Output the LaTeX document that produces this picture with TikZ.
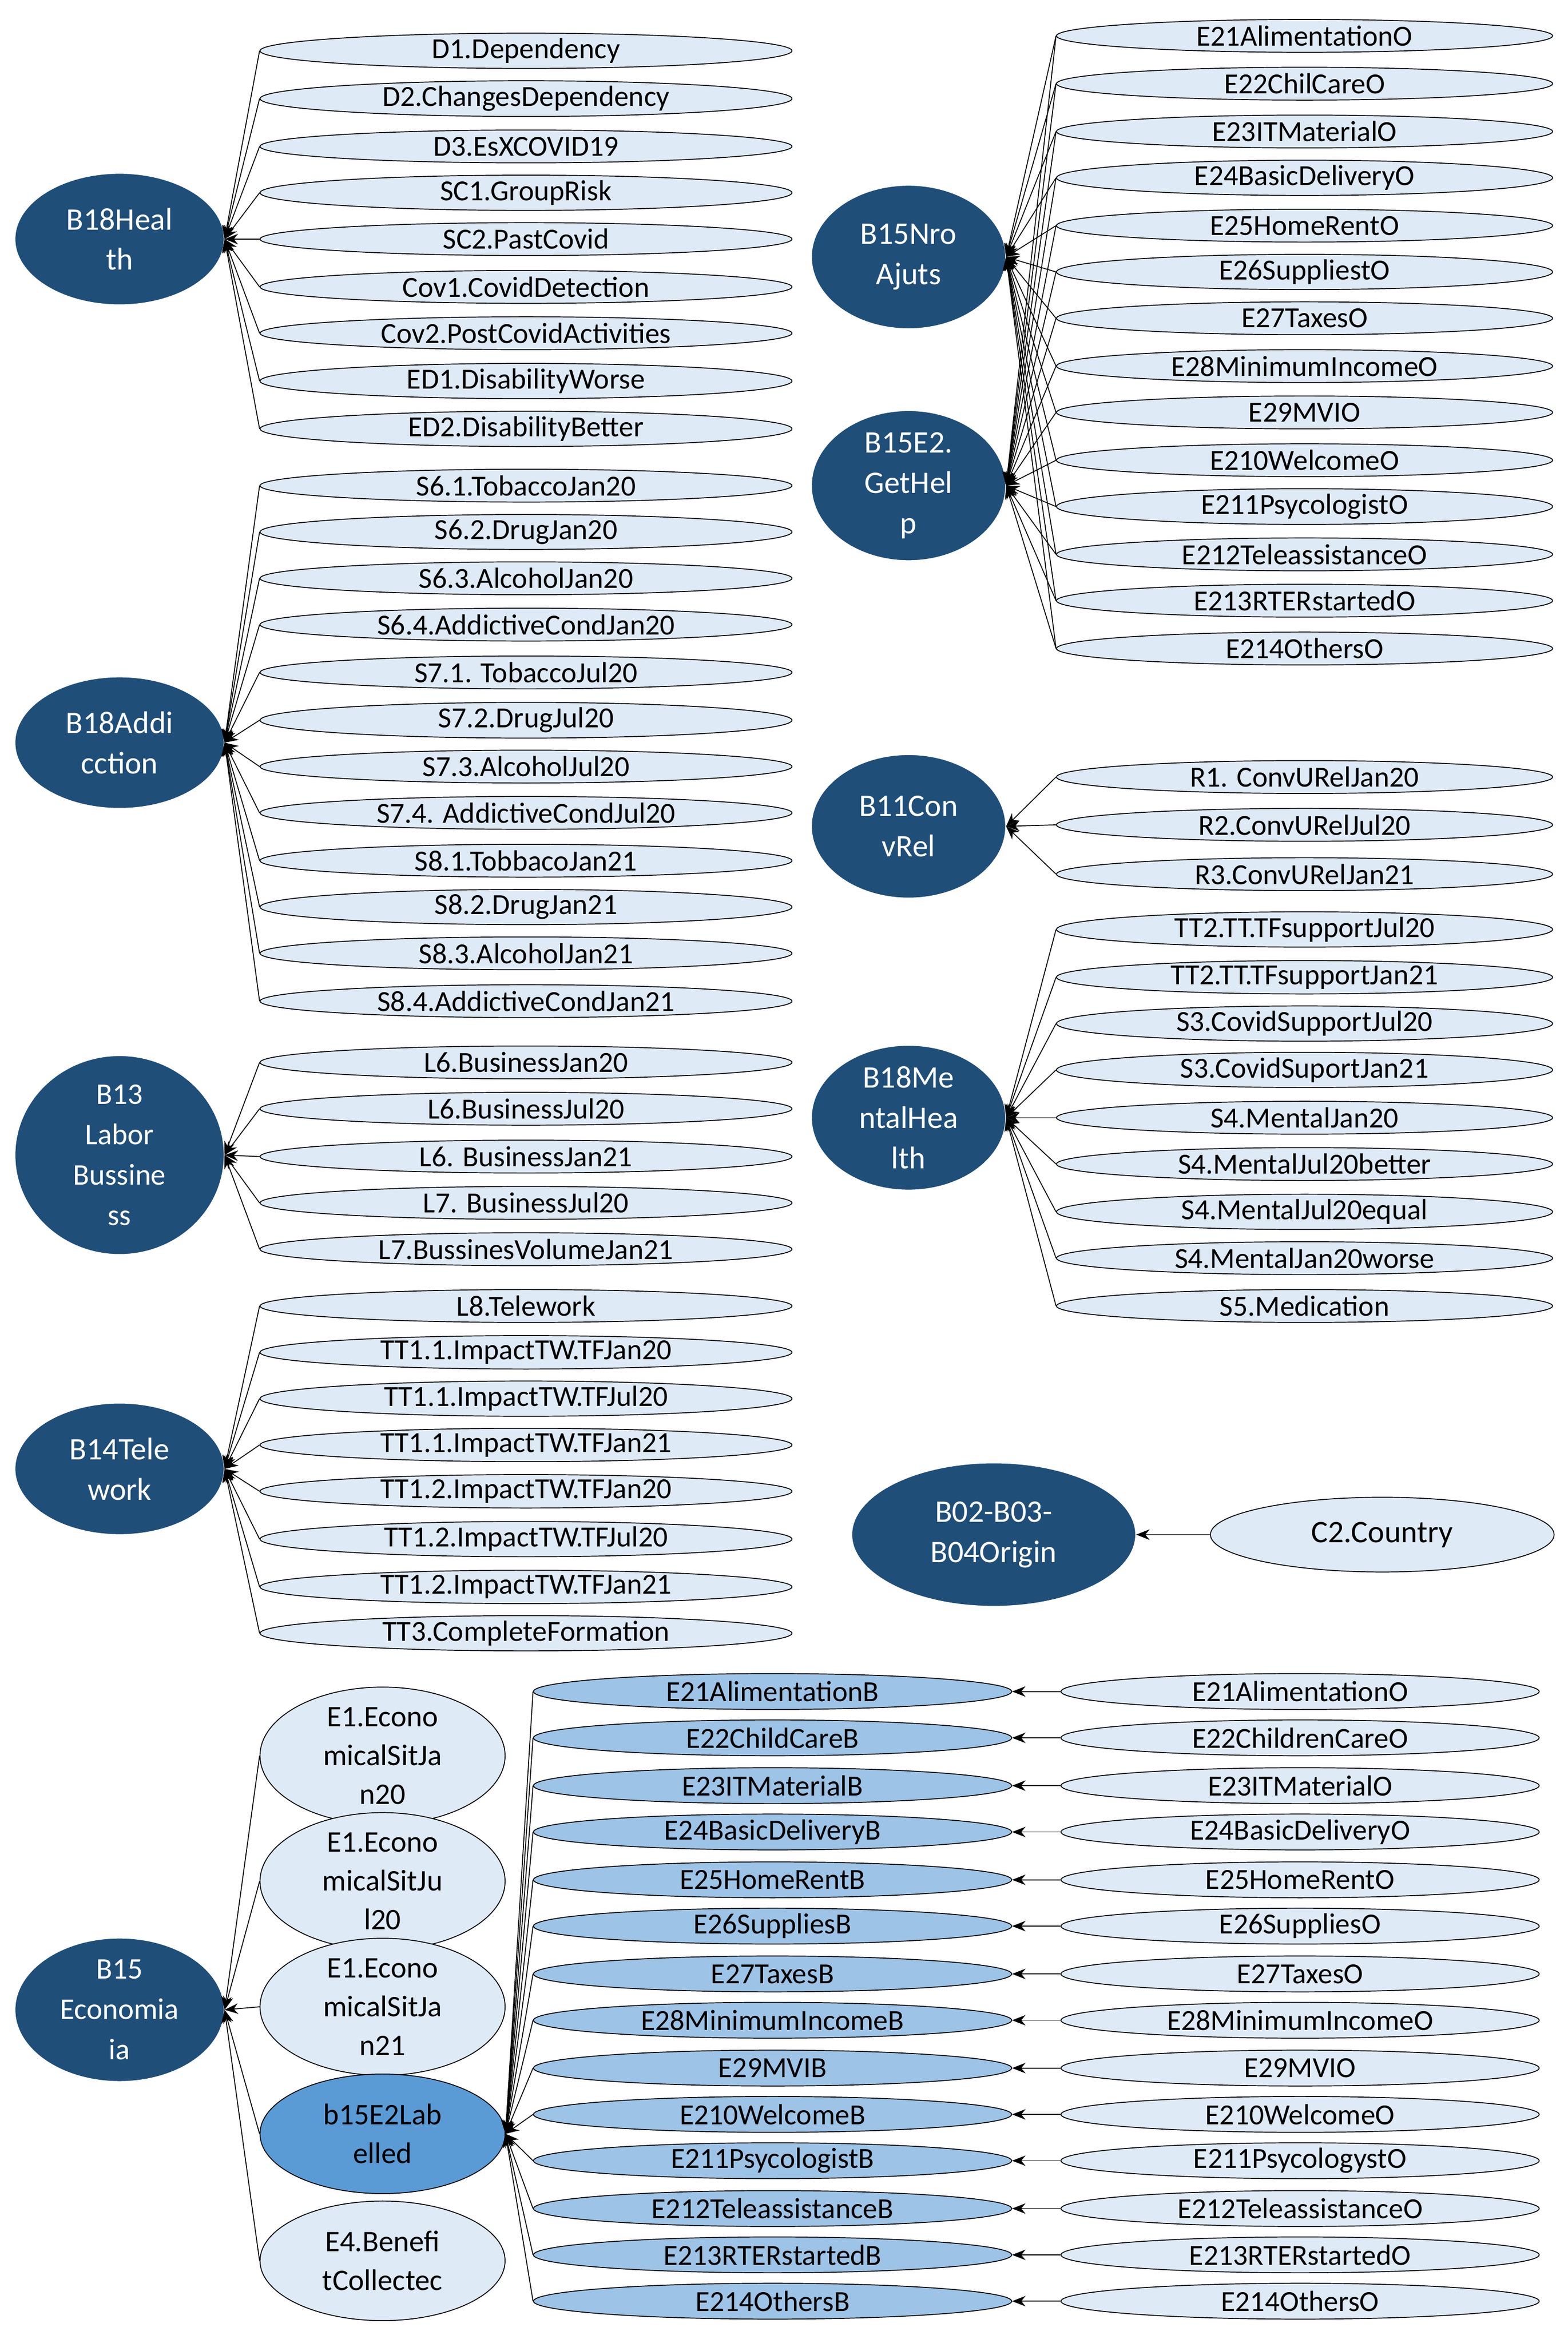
\documentclass[tikz,border=0pt]{standalone}
\usepackage{fontspec}
\setmainfont{Carlito}
\usetikzlibrary{shapes.geometric,arrows.meta}
\definecolor{dk}{HTML}{1F4E79}
\definecolor{lt}{HTML}{DEEBF7}
\definecolor{md}{HTML}{9DC3E6}
\definecolor{mb}{HTML}{5B9BD5}
\begin{document}
\begin{tikzpicture}[x=1pt,y=-1pt,
 lt/.style={ellipse,draw=black,line width=0.6pt,fill=lt,inner sep=0pt,minimum width=356pt,minimum height=22pt,font=\fontsize{19.5}{19}\selectfont},
 rt/.style={lt,minimum width=332pt},
 bb/.style={lt,fill=md,minimum width=320pt,minimum height=24pt},
 oo/.style={lt,minimum width=320pt,minimum height=24pt},
 mid/.style={ellipse,draw=black,line width=0.6pt,fill=lt,inner sep=0pt,minimum width=164pt,minimum height=80pt,align=center,font=\fontsize{20}{26}\selectfont},
 dk/.style={ellipse,draw=white,line width=0.6pt,fill=dk,text=white,inner sep=0pt,minimum width=140pt,minimum height=88pt,align=center,font=\fontsize{21}{27}\selectfont},
 ar/.style={-{Stealth[length=9pt,width=7pt]},line width=0.6pt}]
\useasboundingbox (0,0) rectangle (1049,1568);
\fill[white] (0,0) rectangle (1049,1568);
% left groups
\node[dk] (h) at (80,160) {B18Heal\\th};
\foreach \y/\t [count=\i] in {34/D1.Dependency,66/D2.ChangesDependency,98/D3.EsXCOVID19,129/SC1.GroupRisk,160/SC2.PastCovid,192/Cov1.CovidDetection,223/Cov2.PostCovidActivities,255/ED1.DisabilityWorse,287/ED2.DisabilityBetter}
 {\node[lt] (h\i) at (352,\y) {\t}; \draw[ar] (h\i.west) -- (h.east);}
\node[dk] (a) at (80,497) {B18Addi\\cction};
\foreach \y/\t [count=\i] in {325/S6.1.TobaccoJan20,356/S6.2.DrugJan20,387/S6.3.AlcoholJan20,418/S6.4.AddictiveCondJan20,450/S7.1. TobaccoJul20,482/S7.2.DrugJul20,513/S7.3.AlcoholJul20,544/S7.4. AddictiveCondJul20,576/S8.1.TobbacoJan21,607/S8.2.DrugJan21,638/S8.3.AlcoholJan21,670/S8.4.AddictiveCondJan21}
 {\node[lt] (a\i) at (352,\y) {\t}; \draw[ar] (a\i.west) -- (a.east);}
\node[dk,font=\fontsize{20}{27}\selectfont] (l) at (80,773) {B13\\Labor\\Bussine\\ss};
\foreach \y/\t [count=\i] in {711/L6.BusinessJan20,742/L6.BusinessJul20,774/L6. BusinessJan21,805/L7. BusinessJul20,836/L7.BussinesVolumeJan21}
 {\node[lt] (l\i) at (352,\y) {\t}; \draw[ar] (l\i.west) -- (l.east);}
\node[dk] (t) at (80,983) {B14Tele\\work};
\foreach \y/\t [count=\i] in {874/L8.Telework,905/TT1.1.ImpactTW.TFJan20,936/TT1.1.ImpactTW.TFJul20,967/TT1.1.ImpactTW.TFJan21,998/TT1.2.ImpactTW.TFJan20,1030/TT1.2.ImpactTW.TFJul20,1062/TT1.2.ImpactTW.TFJan21,1093/TT3.CompleteFormation}
 {\node[lt] (t\i) at (352,\y) {\t}; \draw[ar] (t\i.west) -- (t.east);}
% right groups
\node[dk,minimum width=130pt,minimum height=96pt] (n) at (608,172) {B15Nro\\Ajuts};
\node[dk,minimum width=130pt,minimum height=96pt] (g) at (608,325) {B15E2.\\GetHel\\p};
\foreach \y/\t [count=\i] in {24/E21AlimentationO,56/E22ChilCareO,88/E23ITMaterialO,119/E24BasicDeliveryO,151/E25HomeRentO,182/E26SuppliestO,213/E27TaxesO,245/E28MinimumIncomeO,276/E29MVIO,308/E210WelcomeO,339/E211PsycologistO,371/E212TeleassistanceO,402/E213RTERstartedO,434/E214OthersO}
 {\node[rt] (r\i) at (873,\y) {\t}; \draw[ar] (r\i.west) -- (n.east); \draw[ar] (r\i.west) -- (g.east);}
\node[dk,minimum width=130pt,minimum height=96pt] (c) at (608,553) {B11Con\\vRel};
\foreach \y/\t [count=\i] in {520/R1. ConvURelJan20,552/R2.ConvURelJul20,585/R3.ConvURelJan21}
 {\node[rt] (c\i) at (873,\y) {\t}; \draw[ar] (c\i.west) -- (c.east);}
\node[dk,minimum width=130pt,minimum height=96pt] (m) at (608,748) {B18Me\\ntalHea\\lth};
\foreach \y/\t [count=\i] in {622/TT2.TT.TFsupportJul20,654/TT2.TT.TFsupportJan21,685/S3.CovidSupportJul20,716/S3.CovidSuportJan21,748/S4.MentalJan20,779/S4.MentalJul20better,811/S4.MentalJul20equal,842/S4.MentalJan20worse,874/S5.Medication}
 {\node[rt] (m\i) at (873,\y) {\t}; \draw[ar] (m\i.west) -- (m.east);}
\node[dk,minimum width=190pt,minimum height=96pt] (o) at (665,1027) {B02-B03-\\B04Origin};
\node[lt,minimum width=230pt,minimum height=50pt,font=\fontsize{21}{21}\selectfont] (cc) at (925,1027) {C2.Country};
\draw[ar] (cc) -- (o);
% economia
\node[dk,minimum height=96pt,font=\fontsize{20}{27}\selectfont] (e) at (80,1345) {B15\\Economia\\ia};
\node[mid] (e1) at (256,1175) {E1.Econo\\micalSitJa\\n20};
\node[mid] (e2) at (256,1259) {E1.Econo\\micalSitJu\\l20};
\node[mid] (e3) at (256,1343) {E1.Econo\\micalSitJa\\n21};
\node[mid,fill=mb] (e4) at (256,1428) {b15E2Lab\\elled};
\node[mid] (e5) at (256,1513) {E4.Benefi\\tCollectec};
\foreach \i in {1,...,5} {\draw[ar] (e\i.west) -- (e.east);}
\foreach \y/\b/\o [count=\i] in {1132/E21AlimentationB/E21AlimentationO,1163/E22ChildCareB/E22ChildrenCareO,1195/E23ITMaterialB/E23ITMaterialO,1226/E24BasicDeliveryB/E24BasicDeliveryO,1258/E25HomeRentB/E25HomeRentO,1289/E26SuppliesB/E26SuppliesO,1321/E27TaxesB/E27TaxesO,1352/E28MinimumIncomeB/E28MinimumIncomeO,1384/E29MVIB/E29MVIO,1415/E210WelcomeB/E210WelcomeO,1446/E211PsycologistB/E211PsycologystO,1478/E212TeleassistanceB/E212TeleassistanceO,1509/E213RTERstartedB/E213RTERstartedO,1540/E214OthersB/E214OthersO}
 {\node[bb] (b\i) at (517,\y) {\b}; \node[oo] (o\i) at (870,\y) {\o};
  \draw[ar] (o\i.west) -- (b\i.east); \draw[ar] (b\i.west) -- (e4.east);}
\end{tikzpicture}
\end{document}
